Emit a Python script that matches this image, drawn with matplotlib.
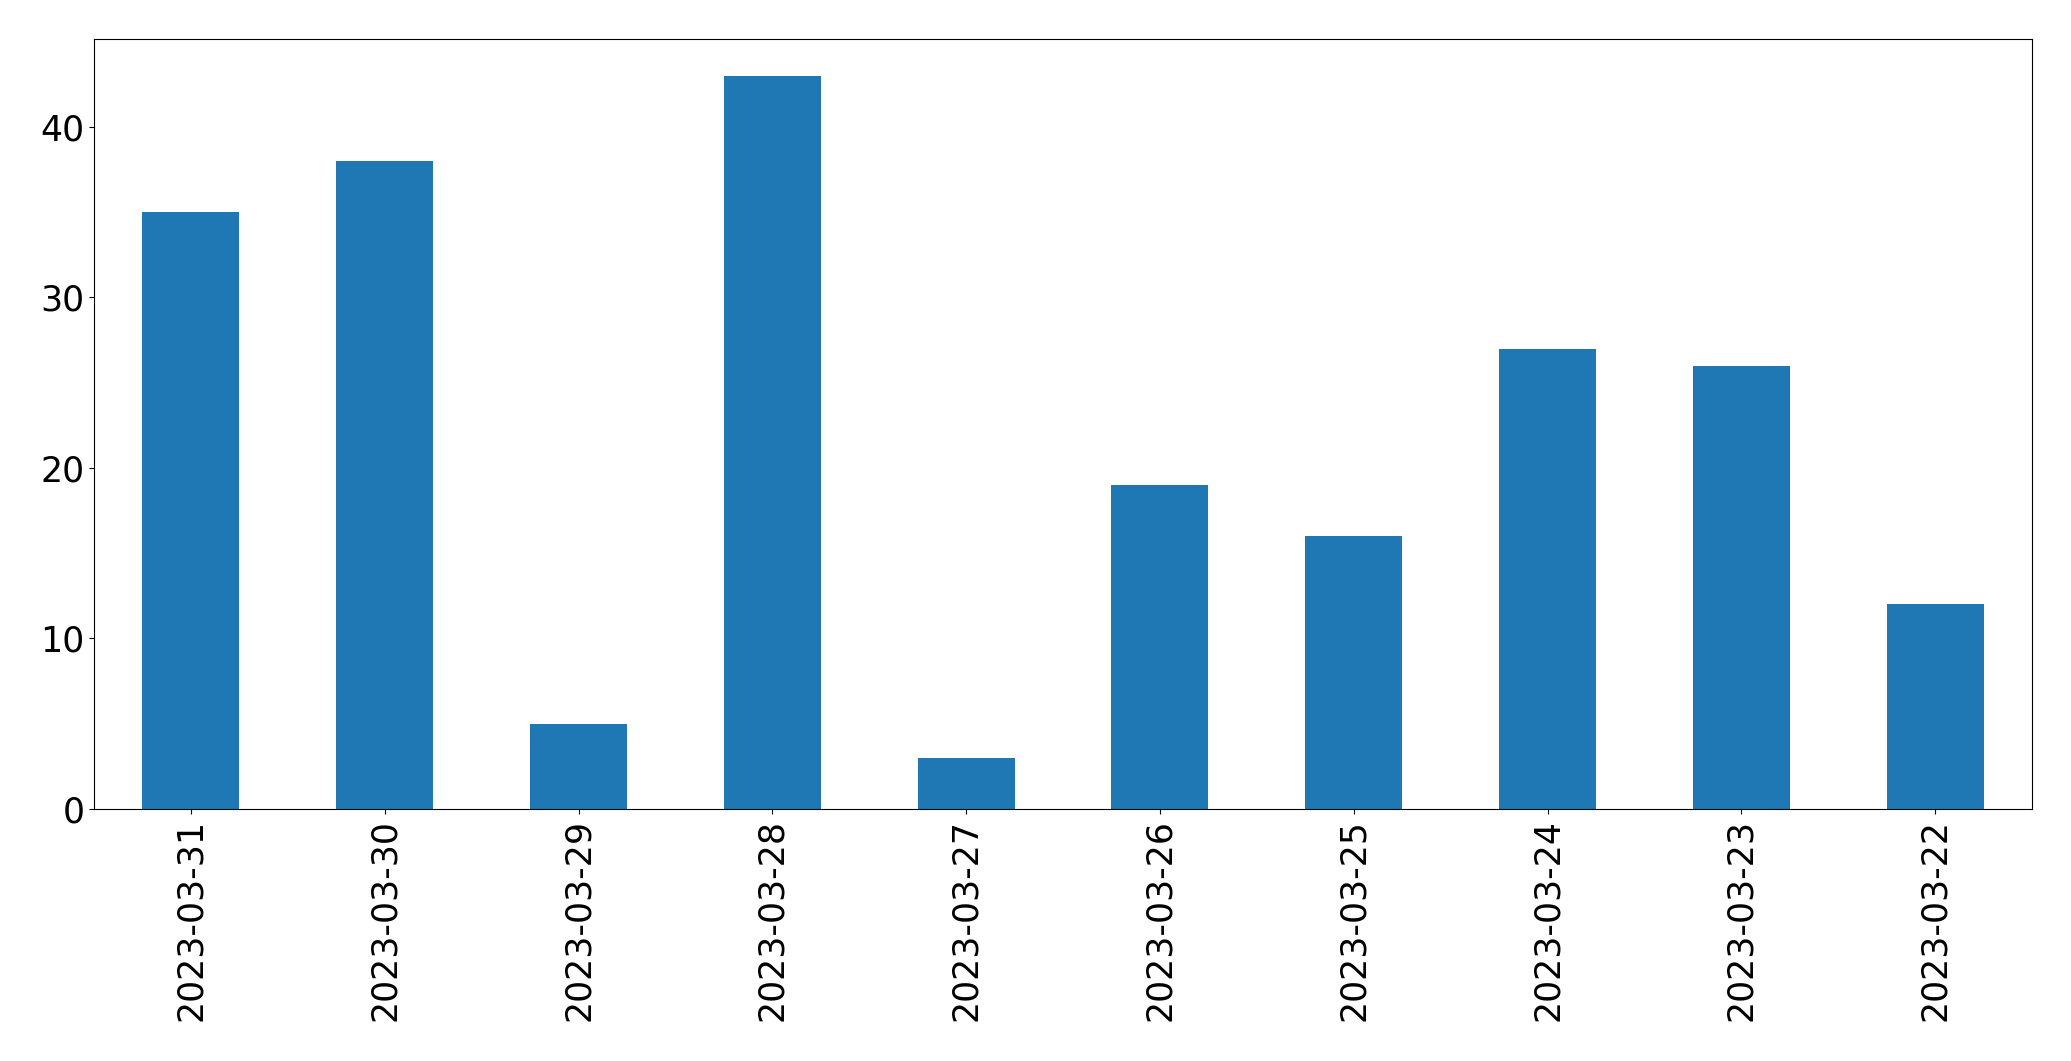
import pandas as pd
from matplotlib import pyplot as plt

dates = ['2023-03-31', '2023-03-30', '2023-03-29', '2023-03-28', '2023-03-27',
         '2023-03-26', '2023-03-25', '2023-03-24', '2023-03-23', '2023-03-22']
counts = [35, 38, 5, 43, 3, 19, 16, 27, 26, 12]

s = pd.Series(counts, index=dates)

fig = plt.figure(figsize=(20.71, 10.61), dpi=100)
ax = fig.add_subplot(111)
s.plot.bar(ax=ax, color='#1f77b4', fontsize=25)
ax.tick_params(axis='x', labelrotation=90)
fig.subplots_adjust(left=94 / 2071, right=2032 / 2071, top=1 - 39 / 1061, bottom=1 - 809 / 1061)
plt.savefig('out.png', dpi=100)
